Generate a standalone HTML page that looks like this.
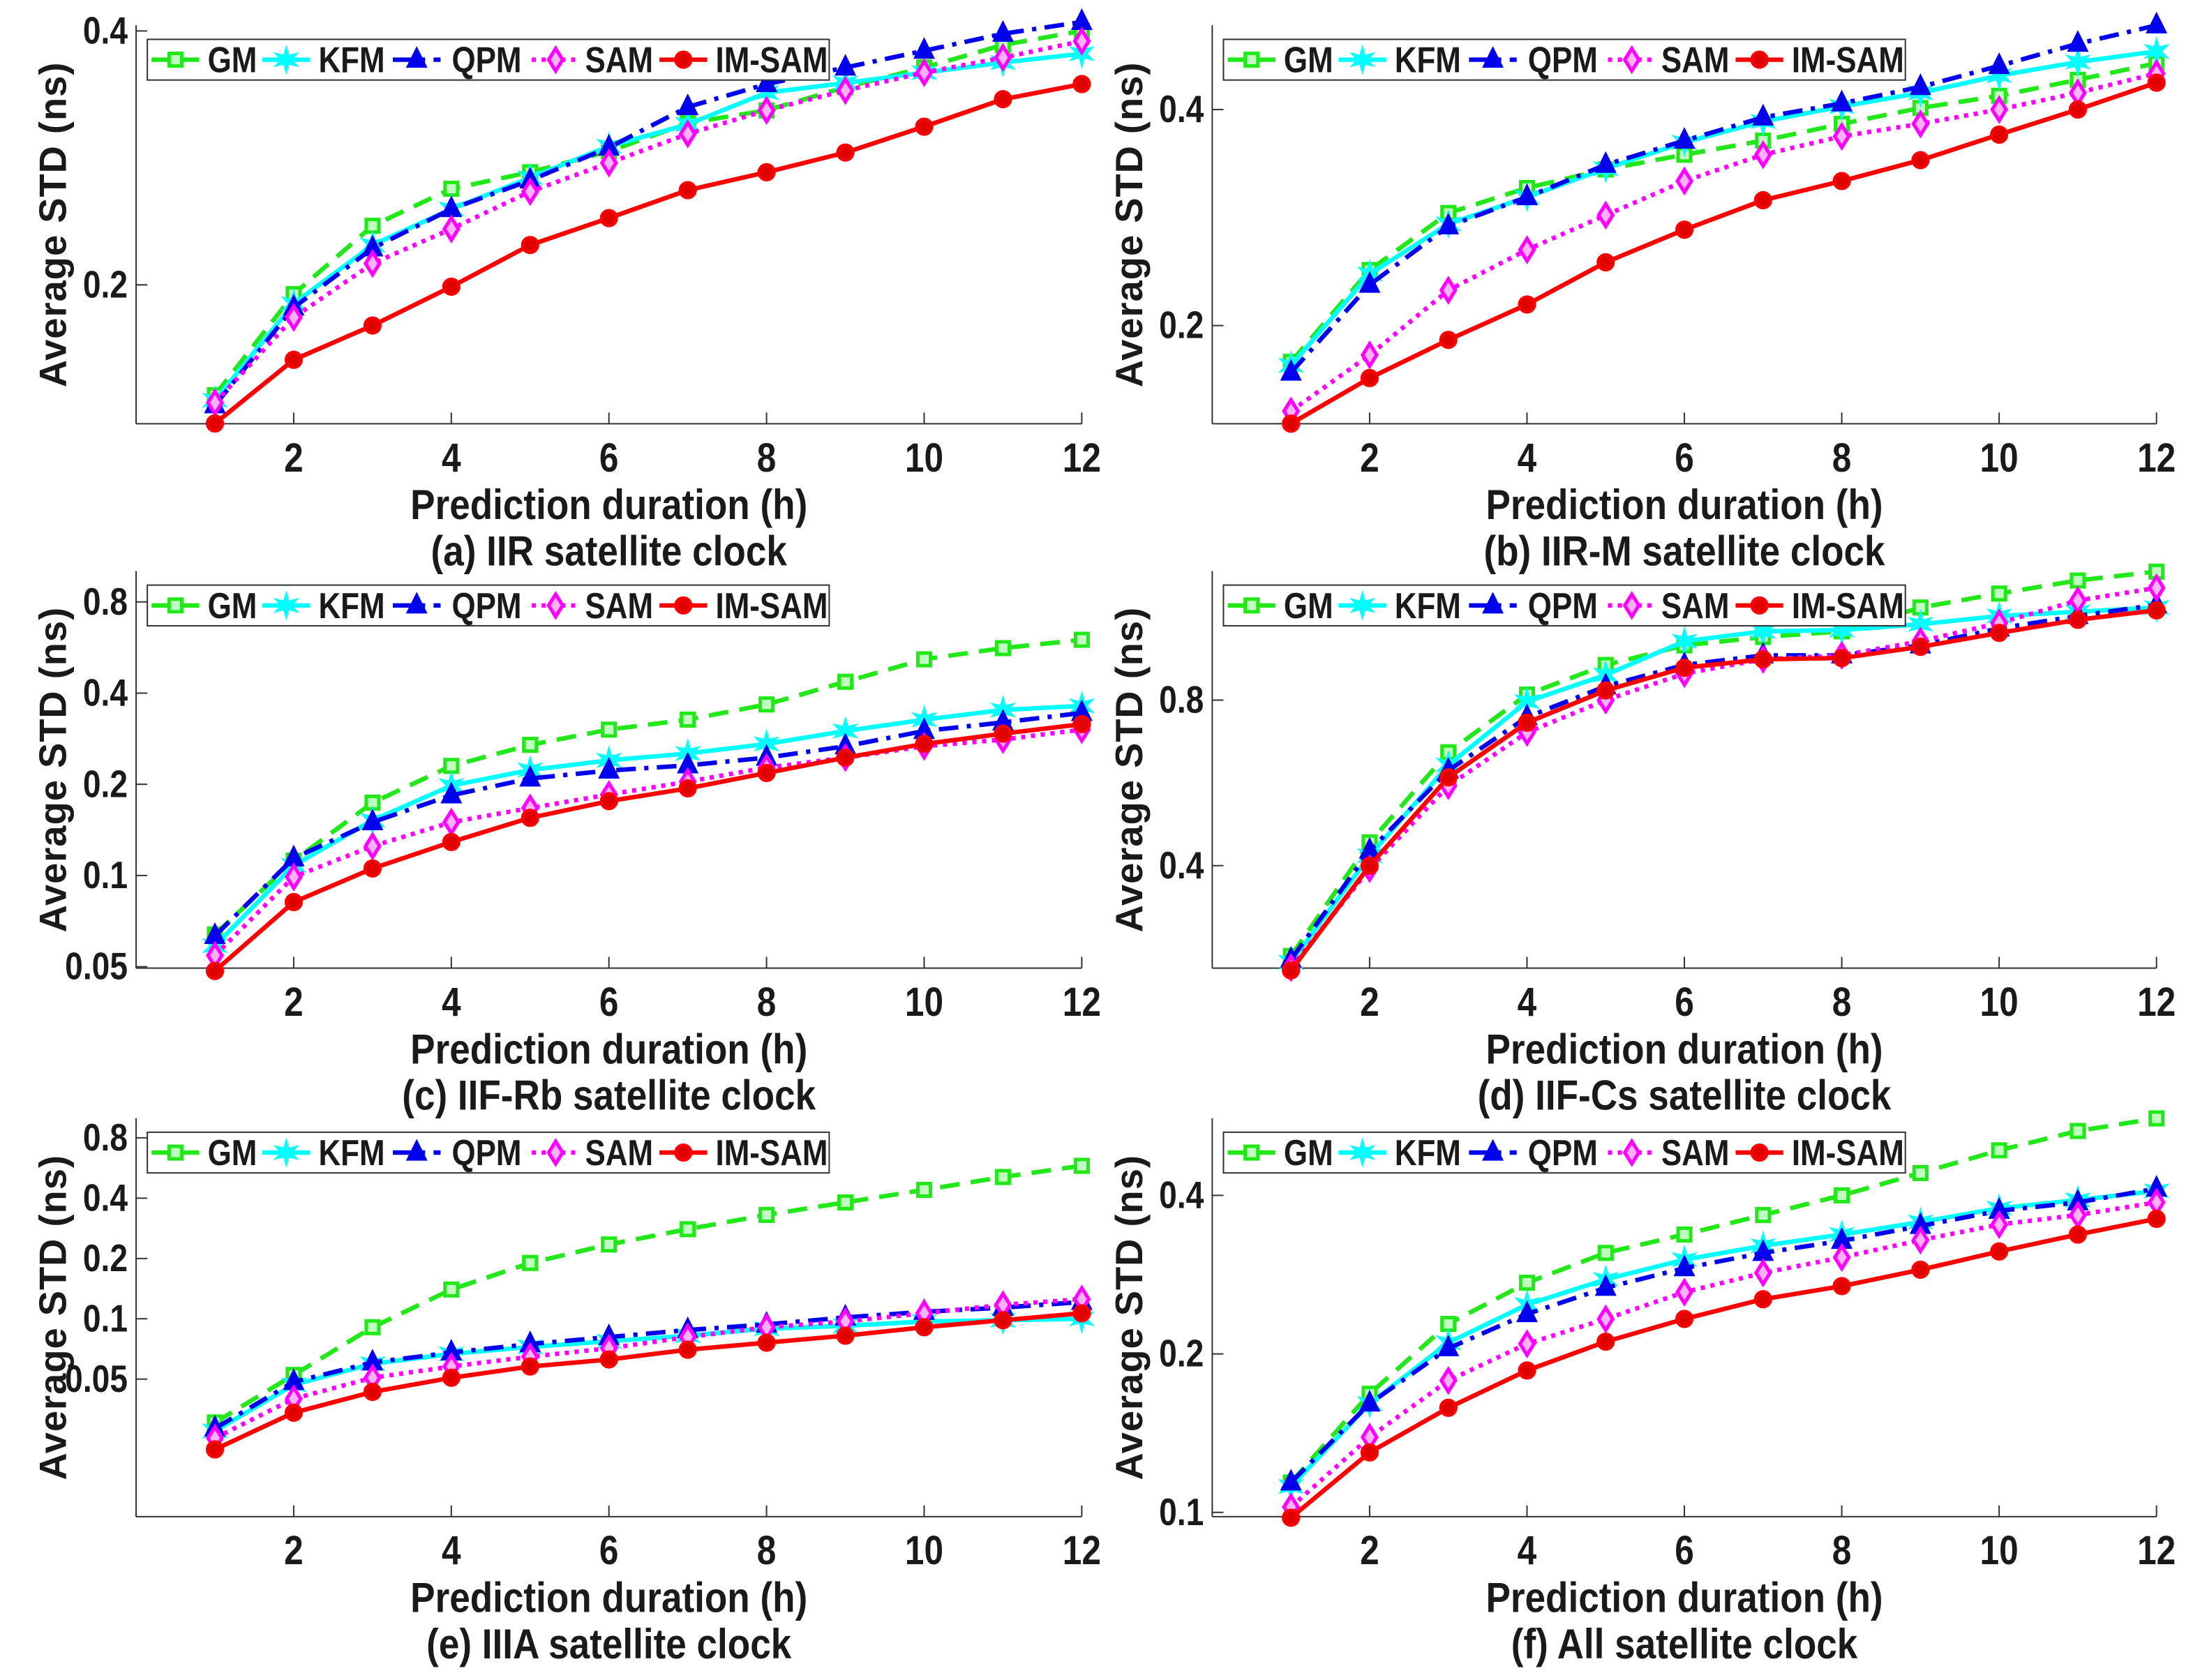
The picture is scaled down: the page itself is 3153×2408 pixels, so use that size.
<!DOCTYPE html>
<html><head><meta charset="utf-8"><style>
html,body{margin:0;padding:0;background:#fff;}
svg{display:block;}
text{font-family:"Liberation Sans",Arial,sans-serif;font-weight:bold;fill:#1a1a1a;}
</style></head><body>
<svg id="fig" width="3153" height="2408" viewBox="0 0 1568 1197.4" xmlns="http://www.w3.org/2000/svg"></svg>
<script>
const hours = [1,2,3,4,5,6,7,8,9,10,11,12];
const seriesNames = ["GM","KFM","QPM","SAM","IM-SAM"];
// panel (a) IIR
const aGM    = [0.148,0.195,0.235,0.260,0.272,0.288,0.311,0.322,0.343,0.362,0.385,0.400];
const aKFM   = [0.146,0.190,0.223,0.246,0.268,0.292,0.310,0.338,0.347,0.357,0.367,0.376];
const aQPM   = [0.144,0.188,0.221,0.246,0.266,0.291,0.325,0.346,0.362,0.379,0.397,0.410];
const aSAM   = [0.145,0.183,0.212,0.233,0.258,0.279,0.302,0.322,0.340,0.357,0.372,0.389];
const aIMSAM = [0.137,0.163,0.179,0.199,0.223,0.240,0.259,0.272,0.287,0.308,0.332,0.346];
// panel (b) IIR-M
const bGM    = [0.178,0.239,0.287,0.311,0.330,0.346,0.362,0.382,0.402,0.418,0.440,0.464];
const bKFM   = [0.176,0.236,0.277,0.302,0.331,0.360,0.385,0.404,0.422,0.446,0.466,0.482];
const bQPM   = [0.172,0.228,0.275,0.302,0.335,0.362,0.390,0.408,0.430,0.460,0.494,0.524];
const bSAM   = [0.152,0.182,0.224,0.255,0.285,0.318,0.346,0.367,0.382,0.400,0.422,0.449];
const bIMSAM = [0.146,0.169,0.191,0.214,0.245,0.272,0.299,0.318,0.340,0.369,0.400,0.436];
// panel (c) IIF-Rb
const cGM    = [0.0639,0.112,0.174,0.230,0.270,0.303,0.327,0.367,0.436,0.517,0.563,0.600];
const cKFM   = [0.0587,0.108,0.152,0.198,0.223,0.240,0.253,0.272,0.300,0.327,0.352,0.363];
const cQPM   = [0.0632,0.114,0.150,0.184,0.209,0.222,0.231,0.245,0.267,0.300,0.320,0.344];
const cSAM   = [0.0545,0.0989,0.125,0.150,0.167,0.185,0.204,0.227,0.245,0.267,0.281,0.303];
const cIMSAM = [0.0484,0.0817,0.1055,0.129,0.155,0.176,0.194,0.218,0.245,0.272,0.294,0.316];
// panel (d) IIF-Cs
const dGM    = [0.274,0.441,0.643,0.819,0.927,1.006,1.042,1.067,1.179,1.25,1.32,1.37];
const dKFM   = [0.267,0.417,0.610,0.795,0.889,1.024,1.067,1.073,1.099,1.138,1.158,1.179];
const dQPM   = [0.270,0.426,0.596,0.745,0.848,0.927,0.965,0.965,1.006,1.08,1.138,1.192];
const dSAM   = [0.261,0.395,0.559,0.699,0.800,0.894,0.949,0.965,1.024,1.105,1.214,1.28];
const dIMSAM = [0.258,0.400,0.579,0.728,0.833,0.916,0.949,0.954,1.000,1.06,1.12,1.165];
// panel (e) IIIA
const eGM    = [0.0304,0.0525,0.0908,0.140,0.190,0.235,0.280,0.330,0.381,0.44,0.51,0.58];
const eKFM   = [0.0276,0.0469,0.0597,0.0668,0.0724,0.0773,0.0824,0.0893,0.0923,0.097,0.0984,0.100];
const eQPM   = [0.0284,0.0484,0.0606,0.0679,0.0748,0.0811,0.0879,0.0937,0.1016,0.1084,0.1137,0.1214];
const eSAM   = [0.0254,0.0399,0.0508,0.0578,0.0647,0.0713,0.0811,0.0908,0.097,0.1066,0.1175,0.1254];
const eIMSAM = [0.0223,0.034,0.0432,0.0508,0.0578,0.0627,0.0701,0.076,0.0824,0.0908,0.0984,0.1066];
// panel (f) All
const fGM    = [0.114,0.168,0.228,0.273,0.311,0.337,0.367,0.400,0.441,0.487,0.530,0.560];
const fKFM   = [0.112,0.161,0.210,0.248,0.277,0.302,0.321,0.337,0.356,0.378,0.392,0.408];
const fQPM   = [0.114,0.161,0.205,0.238,0.267,0.291,0.311,0.328,0.350,0.374,0.388,0.412];
const fSAM   = [0.1024,0.139,0.178,0.209,0.233,0.262,0.285,0.305,0.329,0.352,0.367,0.388];
const fIMSAM = [0.0977,0.130,0.158,0.186,0.211,0.233,0.254,0.269,0.289,0.313,0.337,0.361];
const xTicks = [2,4,6,8,10,12];
const aTicks = [0.2,0.4], bTicks=[0.2,0.4], cTicks=[0.05,0.1,0.2,0.4,0.8], dTicks=[0.4,0.8], eTicks=[0.05,0.1,0.2,0.4,0.8], fTicks=[0.1,0.2,0.4];
const captions = ["(a) IIR satellite clock","(b) IIR-M satellite clock","(c) IIF-Rb satellite clock","(d) IIF-Cs satellite clock","(e) IIIA satellite clock","(f) All satellite clock"];

const NS="http://www.w3.org/2000/svg";
const svg=document.getElementById('fig');
function el(tag,attrs,parent){const e=document.createElementNS(NS,tag);for(const k in attrs)e.setAttribute(k,attrs[k]);(parent||svg).appendChild(e);return e;}
function txt(parent,x,y,s,size,anchor,sx){
  const g=el('g',{transform:`translate(${x},${y}) scale(${sx||1},1)`},parent);
  const t=el('text',{x:0,y:0,'font-size':size,'text-anchor':anchor||'middle'},g);
  t.textContent=s;return t;}

const styles=[
 {color:'#22e81a',dash:'14 8',marker:'square'},
 {color:'#00ffff',dash:'',marker:'star'},
 {color:'#0000ee',dash:'14 6 3 6',marker:'tri'},
 {color:'#ff00ff',dash:'3 4',marker:'diamond'},
 {color:'#ff0000',dash:'',marker:'circle'}];
function marker(g,type,x,y,c){
  if(type==='square')return el('rect',{x:x-4.5,y:y-4.5,width:9,height:9,fill:'#bfffbf',stroke:c,'stroke-width':2.5},g);
  if(type==='circle')return el('circle',{cx:x,cy:y,r:5.5,fill:'#e00000',stroke:c,'stroke-width':2},g);
  if(type==='tri')return el('polygon',{points:`${x},${y-8} ${x-6.5},${y+5} ${x+6.5},${y+5}`,fill:c,stroke:c,'stroke-width':1.5},g);
  if(type==='diamond')return el('polygon',{points:`${x},${y-8} ${x-5},${y} ${x},${y+8} ${x+5},${y}`,fill:'#ffb0ff',stroke:c,'stroke-width':2.5},g);
  let p=[];for(let i=0;i<12;i++){const r=i%2?3.5:9;const a=-Math.PI/2+i*Math.PI/6;p.push((x+r*Math.cos(a)).toFixed(1)+','+(y+r*Math.sin(a)).toFixed(1));}
  return el('polygon',{points:p.join(' '),fill:c,stroke:c,'stroke-width':1},g);
}

const panels=[
 {data:[aGM,aKFM,aQPM,aSAM,aIMSAM],ticks:aTicks,ref:0.2,refY:203,ppd:181,x0:97,x1:771,top:18,bot:302,id:'a'},
 {data:[bGM,bKFM,bQPM,bSAM,bIMSAM],ticks:bTicks,ref:0.2,refY:232,ppd:154,x0:864,x1:1537,top:18,bot:302,id:'b'},
 {data:[cGM,cKFM,cQPM,cSAM,cIMSAM],ticks:cTicks,ref:0.1,refY:624,ppd:65,x0:97,x1:771,top:407,bot:690,id:'c'},
 {data:[dGM,dKFM,dQPM,dSAM,dIMSAM],ticks:dTicks,ref:0.4,refY:617,ppd:118,x0:864,x1:1537,top:407,bot:690,id:'d'},
 {data:[eGM,eKFM,eQPM,eSAM,eIMSAM],ticks:eTicks,ref:0.1,refY:940,ppd:43,x0:97,x1:771,top:797,bot:1081,id:'e'},
 {data:[fGM,fKFM,fQPM,fSAM,fIMSAM],ticks:fTicks,ref:0.2,refY:965,ppd:113,x0:864,x1:1537,top:797,bot:1081,id:'f'}];

panels.forEach((P,pi)=>{
  const g=el('g',{});
  
  
  const xs=h=>P.x0+h*(P.x1-P.x0)/12;
  const ys=v=>P.refY-P.ppd*Math.log2(v/P.ref);
  const ax=el('g',{},g);
  
  
  el('line',{x1:P.x0,y1:P.top,x2:P.x0,y2:P.bot,stroke:'#333','stroke-width':1},ax);
  el('line',{x1:P.x0,y1:P.bot,x2:P.x1,y2:P.bot,stroke:'#333','stroke-width':1},ax);
  xTicks.forEach(t=>{const x=xs(t);el('line',{x1:x,y1:P.bot,x2:x,y2:P.bot-8,stroke:'#333','stroke-width':1},ax);
    const tl=txt(ax,x,P.bot+34,String(t),29,'middle',0.85);
    
    });
  P.ticks.forEach(t=>{const y=ys(t);el('line',{x1:P.x0,y1:y,x2:P.x0+8,y2:y,stroke:'#333','stroke-width':1},ax);
    const tl=txt(ax,P.x0-6,y+9,String(t),27,'end',0.85);
    
    });
  const cx=(P.x0+P.x1)/2;
  const xl=txt(g,cx,P.bot+68,'Prediction duration (h)',30,'middle',0.88);
  
  
  const cp=txt(g,cx,P.bot+101,captions[pi],30,'middle',0.88);
  
  
  const yg=el('g',{transform:`translate(${P.x0-50},${(P.top+P.bot)/2}) rotate(-90)`},g);
  const yl=el('text',{x:0,y:0,'font-size':27,'text-anchor':'middle','letter-spacing':0.5},yg);
  yl.textContent='Average STD (ns)';
  
  
  P.data.forEach((arr,si)=>{
    const st=styles[si];
    const sg=el('g',{},g);
    
    
    const pts=arr.map((v,i)=>xs(hours[i]).toFixed(1)+','+ys(v).toFixed(1)).join(' ');
    const ln=el('polyline',{points:pts,fill:'none',stroke:st.color,'stroke-width':3.2,'stroke-dasharray':st.dash,'stroke-linejoin':'round'},sg);
    
    
    arr.forEach((v,i)=>{const m=marker(sg,st.marker,xs(hours[i]),ys(v),st.color);
      
      });
  });
  // legend
  const lx=P.x0+8, ly=P.top+10;
  const lg=el('g',{},g);
  
  
  el('rect',{x:lx,y:ly,width:486,height:29,fill:'#fff',stroke:'#333','stroke-width':1},lg);
  const lineOff=[3,82,175,274,365], textOff=[43,122,217,312,405];
  styles.forEach((st,si)=>{
    const eg=el('g',{},lg);
    
    
    const yy=ly+14.5;
    el('line',{x1:lx+lineOff[si],y1:yy,x2:lx+lineOff[si]+34,y2:yy,stroke:st.color,'stroke-width':3.2,'stroke-dasharray':st.dash},eg);
    marker(eg,st.marker,lx+lineOff[si]+17,yy,st.color);
    txt(eg,lx+textOff[si],yy+9,seriesNames[si],26,'start',0.84);
  });
});
</script>
</body></html>
